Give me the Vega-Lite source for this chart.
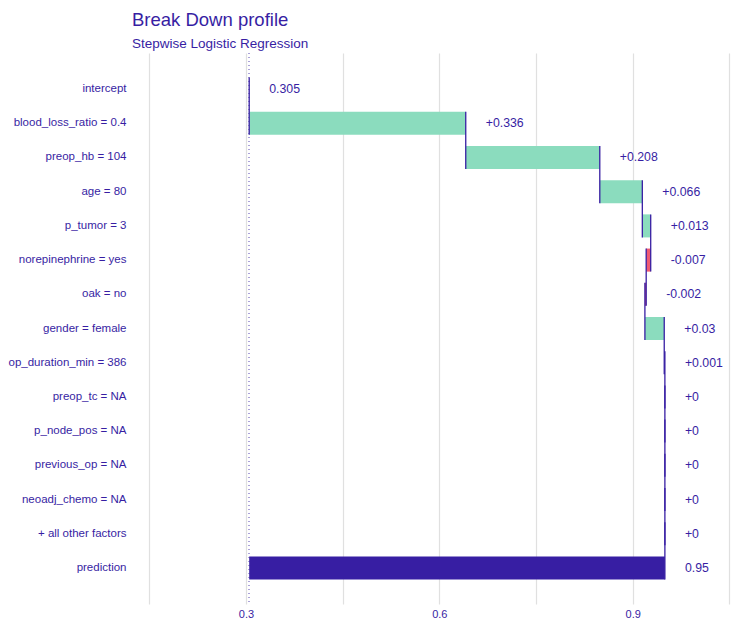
{
  "$schema": "https://vega.github.io/schema/vega-lite/v6.json",
  "autosize": "none",
  "width": 600,
  "height": 551,
  "padding": {"left": 135, "top": 53, "right": 8, "bottom": 25},
  "background": "white",
  "config": {
    "view": {"stroke": null},
    "font": "Liberation Sans"
  },
  "title": {
    "text": "Break Down profile",
    "subtitle": "Stepwise Logistic Regression",
    "anchor": "start",
    "frame": "group",
    "dx": -3,
    "offset": 2,
    "font": "Liberation Sans",
    "fontSize": 18.5,
    "fontWeight": "normal",
    "color": "#371ea3",
    "subtitleFont": "Liberation Sans",
    "subtitleFontSize": 13.5,
    "subtitleColor": "#371ea3",
    "subtitlePadding": 8
  },
  "data": {
    "values": [
      {"variable": "intercept", "next": "blood_loss_ratio = 0.4", "start": 0.305, "end": 0.305, "right": 0.305, "label": "0.305", "sign": "intercept"},
      {"variable": "blood_loss_ratio = 0.4", "next": "preop_hb = 104", "start": 0.305, "end": 0.641, "right": 0.641, "label": "+0.336", "sign": "positive"},
      {"variable": "preop_hb = 104", "next": "age = 80", "start": 0.641, "end": 0.849, "right": 0.849, "label": "+0.208", "sign": "positive"},
      {"variable": "age = 80", "next": "p_tumor = 3", "start": 0.849, "end": 0.915, "right": 0.915, "label": "+0.066", "sign": "positive"},
      {"variable": "p_tumor = 3", "next": "norepinephrine = yes", "start": 0.915, "end": 0.928, "right": 0.928, "label": "+0.013", "sign": "positive"},
      {"variable": "norepinephrine = yes", "next": "oak = no", "start": 0.928, "end": 0.921, "right": 0.928, "label": "-0.007", "sign": "negative"},
      {"variable": "oak = no", "next": "gender = female", "start": 0.921, "end": 0.919, "right": 0.921, "label": "-0.002", "sign": "negative"},
      {"variable": "gender = female", "next": "op_duration_min = 386", "start": 0.919, "end": 0.949, "right": 0.949, "label": "+0.03", "sign": "positive"},
      {"variable": "op_duration_min = 386", "next": "preop_tc = NA", "start": 0.949, "end": 0.950, "right": 0.950, "label": "+0.001", "sign": "positive"},
      {"variable": "preop_tc = NA", "next": "p_node_pos = NA", "start": 0.950, "end": 0.950, "right": 0.950, "label": "+0", "sign": "positive"},
      {"variable": "p_node_pos = NA", "next": "previous_op = NA", "start": 0.950, "end": 0.950, "right": 0.950, "label": "+0", "sign": "positive"},
      {"variable": "previous_op = NA", "next": "neoadj_chemo = NA", "start": 0.950, "end": 0.950, "right": 0.950, "label": "+0", "sign": "positive"},
      {"variable": "neoadj_chemo = NA", "next": "+ all other factors", "start": 0.950, "end": 0.950, "right": 0.950, "label": "+0", "sign": "positive"},
      {"variable": "+ all other factors", "next": "prediction", "start": 0.950, "end": 0.950, "right": 0.950, "label": "+0", "sign": "positive"},
      {"variable": "prediction", "next": null, "start": 0.305, "end": 0.950, "right": 0.950, "label": "0.95", "sign": "prediction"}
    ]
  },
  "layer": [
    {
      "mark": {"type": "rule", "color": "#aaa3d8", "strokeWidth": 1, "strokeDash": [1, 3]},
      "encoding": {
        "x": {
          "datum": 0.305,
          "type": "quantitative",
          "title": null,
          "scale": {"domain": [0.1278, 1.0588], "nice": false, "zero": false},
          "axis": {
            "title": null,
            "values": [0.15, 0.3, 0.45, 0.6, 0.75, 0.9, 1.05],
            "format": ".2~f",
            "labelExpr": "datum.value == 0.3 || datum.value == 0.6 || datum.value == 0.9 ? datum.label : ''",
            "domain": false,
            "ticks": false,
            "tickSize": 0,
            "grid": true,
            "gridColor": "#e0e0e0",
            "gridWidth": 1.2,
            "labelPadding": 4,
            "labelFont": "Liberation Sans",
            "labelFontSize": 11,
            "labelColor": "#371ea3"
          }
        }
      }
    },
    {
      "mark": {"type": "bar", "opacity": 1},
      "encoding": {
        "y": {
          "field": "variable",
          "type": "nominal",
          "title": null,
          "scale": {
            "domain": ["intercept", "blood_loss_ratio = 0.4", "preop_hb = 104", "age = 80", "p_tumor = 3", "norepinephrine = yes", "oak = no", "gender = female", "op_duration_min = 386", "preop_tc = NA", "p_node_pos = NA", "previous_op = NA", "neoadj_chemo = NA", "+ all other factors", "prediction"],
            "paddingInner": 0.326,
            "paddingOuter": 0.718
          },
          "axis": {
            "title": null,
            "domain": false,
            "ticks": false,
            "tickSize": 0,
            "grid": false,
            "labelPadding": 9,
            "labelFont": "Liberation Sans",
            "labelFontSize": 11.5,
            "labelColor": "#371ea3",
            "labelLimit": 300
          }
        },
        "x": {"field": "start", "type": "quantitative", "title": null},
        "x2": {"field": "end"},
        "color": {
          "field": "sign",
          "type": "nominal",
          "legend": null,
          "scale": {
            "domain": ["intercept", "positive", "negative", "prediction"],
            "range": ["#371ea3", "#8bdcbe", "#f05a71", "#371ea3"]
          }
        }
      }
    },
    {
      "transform": [{"filter": "isValid(datum.next)"}],
      "mark": {"type": "rule", "color": "#371ea3", "strokeWidth": 1.3, "yOffset": -11.5, "y2Offset": 11.5},
      "encoding": {
        "x": {"field": "end", "type": "quantitative", "title": null},
        "y": {"field": "variable", "type": "nominal", "title": null},
        "y2": {"field": "next"}
      }
    },
    {
      "mark": {"type": "text", "align": "left", "baseline": "middle", "dx": 20, "font": "Liberation Sans", "fontSize": 12.3, "color": "#371ea3"},
      "encoding": {
        "x": {"field": "right", "type": "quantitative", "title": null},
        "y": {"field": "variable", "type": "nominal", "title": null},
        "text": {"field": "label"}
      }
    }
  ]
}
